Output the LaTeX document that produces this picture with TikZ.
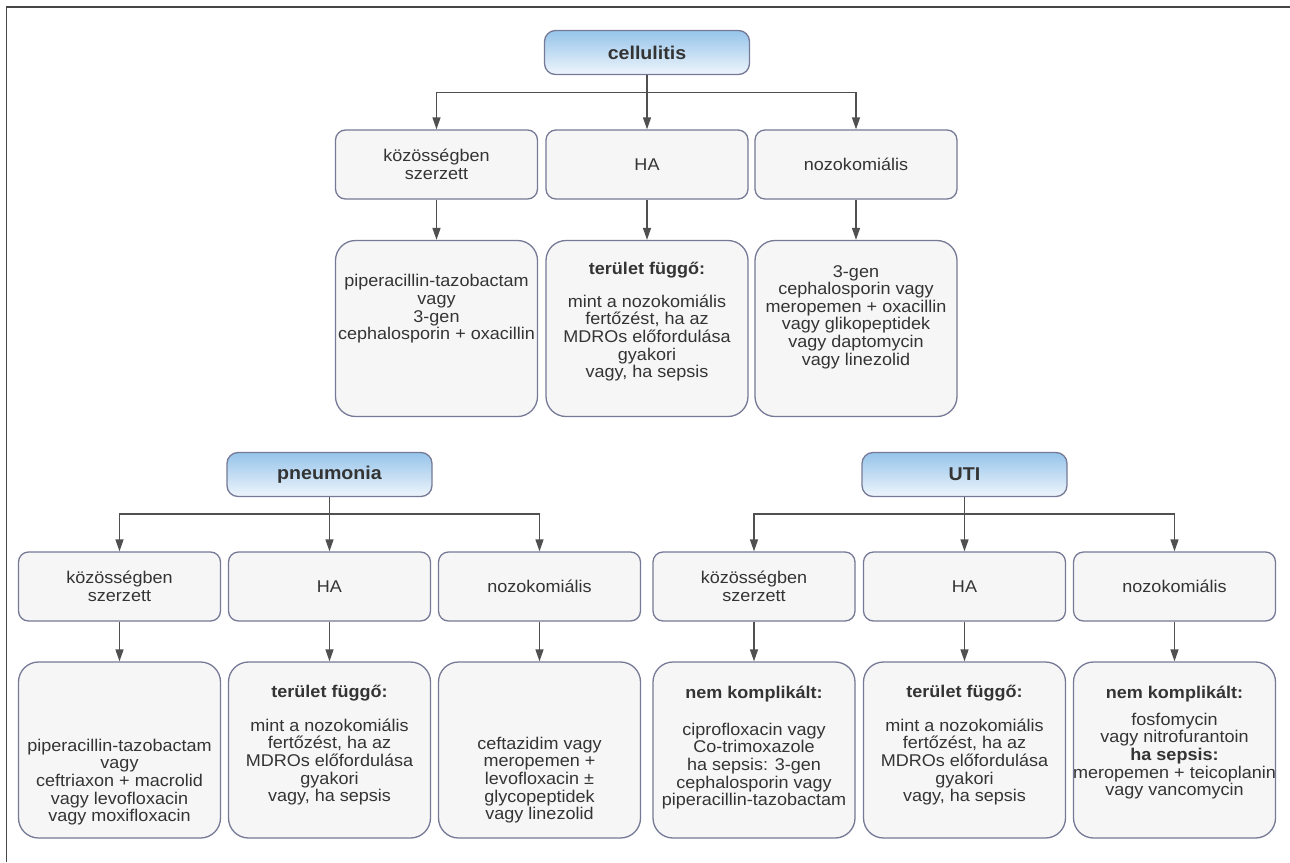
\documentclass[tikz,border=0pt]{standalone}
\usepackage{fontspec}
\setmainfont[FakeStretch=1.06]{Liberation Sans}
\usetikzlibrary{arrows.meta}
\definecolor{ink}{RGB}{52,52,52}
\definecolor{wire}{RGB}{80,80,80}
\definecolor{edge}{RGB}{118,122,150}
\definecolor{paper}{RGB}{246,246,246}
\definecolor{headtop}{RGB}{150,196,234}
\definecolor{headbot}{RGB}{238,245,252}
\definecolor{frame}{RGB}{70,70,70}

\begin{document}
\begin{tikzpicture}[x=1pt,y=-1pt,
  every node/.style={text=ink, font=\fontsize{17}{17.6}\selectfont},
  header/.style={draw=edge, line width=1.3pt, rounded corners=11pt,
    top color=headtop, bottom color=headbot, minimum width=205pt,
    minimum height=44pt, inner sep=0pt,
    font=\fontsize{18.5}{20}\selectfont\bfseries},
  kind/.style={draw=edge, line width=1.3pt, fill=paper, rounded corners=10pt,
    minimum width=202pt, minimum height=69pt, inner sep=0pt, align=center},
  cure/.style={draw=edge, line width=1.3pt, fill=paper, rounded corners=20pt,
    minimum width=202pt, minimum height=176pt, inner sep=0pt},
  body/.style={align=center, inner sep=0pt},
  lead/.style={inner sep=0pt, font=\fontsize{17}{17.6}\selectfont\bfseries},
  link/.style={draw=wire, line width=1.4pt},
  arr/.style={link, -{Triangle[length=12pt,width=8pt]}},
]
\useasboundingbox (0,0) rectangle (1290,862);
\fill[white] (0,0) rectangle (1290,862);

% outer frame (left and top edges)
\draw[frame, line width=1.5pt] (6.5,862) -- (6.5,7) -- (1290,7);

% bus rows
\coordinate (toprow) at (0,92.5);
\coordinate (lowrow) at (0,514);

% ---------------- cellulitis ----------------
\node[header] (cel) at (647,52.5) {cellulitis};
\node[kind] (c1) at (436.5,164.5) {közösségben\\szerzett};
\node[kind] (c2) at (647,164.5) {HA};
\node[kind] (c3) at (856,164.5) {nozokomiális};
\node[cure] (d1) at (436.5,328.5) {};
\node[cure] (d2) at (647,328.5) {};
\node[cure] (d3) at (856,328.5) {};

\node[body] at (436.5,309) {piperacillin-tazobactam\\vagy\\3-gen\\cephalosporin + oxacillin};
\node[lead] at (647,270) {terület függő:};
\node[body] at (647,338) {mint a nozokomiális\\fertőzést, ha az\\MDROs előfordulása\\gyakori\\vagy, ha sepsis};
\node[body] at (856,317) {3-gen\\cephalosporin vagy\\meropemen + oxacillin\\vagy glikopeptidek\\vagy daptomycin\\vagy linezolid};

\draw[link] (cel.south) -- (cel.south |- toprow);
\draw[arr] (cel.south |- toprow) -| (c1.north);
\draw[arr] (cel.south) -- (c2.north);
\draw[arr] (cel.south |- toprow) -| (c3.north);
\draw[arr] (c1.south) -- (d1.north);
\draw[arr] (c2.south) -- (d2.north);
\draw[arr] (c3.south) -- (d3.north);

% ---------------- pneumonia ----------------
\node[header] (pne) at (329.5,474.5) {pneumonia};
\node[kind] (p1) at (119.5,586.5) {közösségben\\szerzett};
\node[kind] (p2) at (329.5,586.5) {HA};
\node[kind] (p3) at (539.5,586.5) {nozokomiális};
\node[cure] (q1) at (119.5,750) {};
\node[cure] (q2) at (329.5,750) {};
\node[cure] (q3) at (539.5,750) {};

\node[body] at (119.5,782) {piperacillin-tazobactam\\vagy\\ceftriaxon + macrolid\\vagy levofloxacin\\vagy moxifloxacin};
\node[lead] at (329.5,693) {terület függő:};
\node[body] at (329.5,762) {mint a nozokomiális\\fertőzést, ha az\\MDROs előfordulása\\gyakori\\vagy, ha sepsis};
\node[body] at (539.5,780) {ceftazidim vagy\\meropemen +\\levofloxacin ±\\glycopeptidek\\vagy linezolid};

\draw[link] (pne.south) -- (pne.south |- lowrow);
\draw[arr] (pne.south |- lowrow) -| (p1.north);
\draw[arr] (pne.south) -- (p2.north);
\draw[arr] (pne.south |- lowrow) -| (p3.north);
\draw[arr] (p1.south) -- (q1.north);
\draw[arr] (p2.south) -- (q2.north);
\draw[arr] (p3.south) -- (q3.north);

% ---------------- UTI ----------------
\node[header] (uti) at (964.5,474.5) {UTI};
\node[kind] (u1) at (754,586.5) {közösségben\\szerzett};
\node[kind] (u2) at (964.5,586.5) {HA};
\node[kind] (u3) at (1174.5,586.5) {nozokomiális};
\node[cure] (v1) at (754,750) {};
\node[cure] (v2) at (964.5,750) {};
\node[cure] (v3) at (1174.5,750) {};

\node[lead] at (754,694) {nem komplikált:};
\node[body] at (754,766) {ciprofloxacin vagy\\Co-trimoxazole\\ha sepsis: 3-gen\\cephalosporin vagy\\piperacillin-tazobactam};
\node[lead] at (964.5,693) {terület függő:};
\node[body] at (964.5,762) {mint a nozokomiális\\fertőzést, ha az\\MDROs előfordulása\\gyakori\\vagy, ha sepsis};
\node[lead] at (1174.5,694) {nem komplikált:};
\node[body] at (1174.5,756) {fosfomycin\\vagy nitrofurantoin\\\textbf{ha sepsis:}\\meropemen + teicoplanin\\vagy vancomycin};

\draw[link] (uti.south) -- (uti.south |- lowrow);
\draw[arr] (uti.south |- lowrow) -| (u1.north);
\draw[arr] (uti.south) -- (u2.north);
\draw[arr] (uti.south |- lowrow) -| (u3.north);
\draw[arr] (u1.south) -- (v1.north);
\draw[arr] (u2.south) -- (v2.north);
\draw[arr] (u3.south) -- (v3.north);
\end{tikzpicture}
\end{document}
